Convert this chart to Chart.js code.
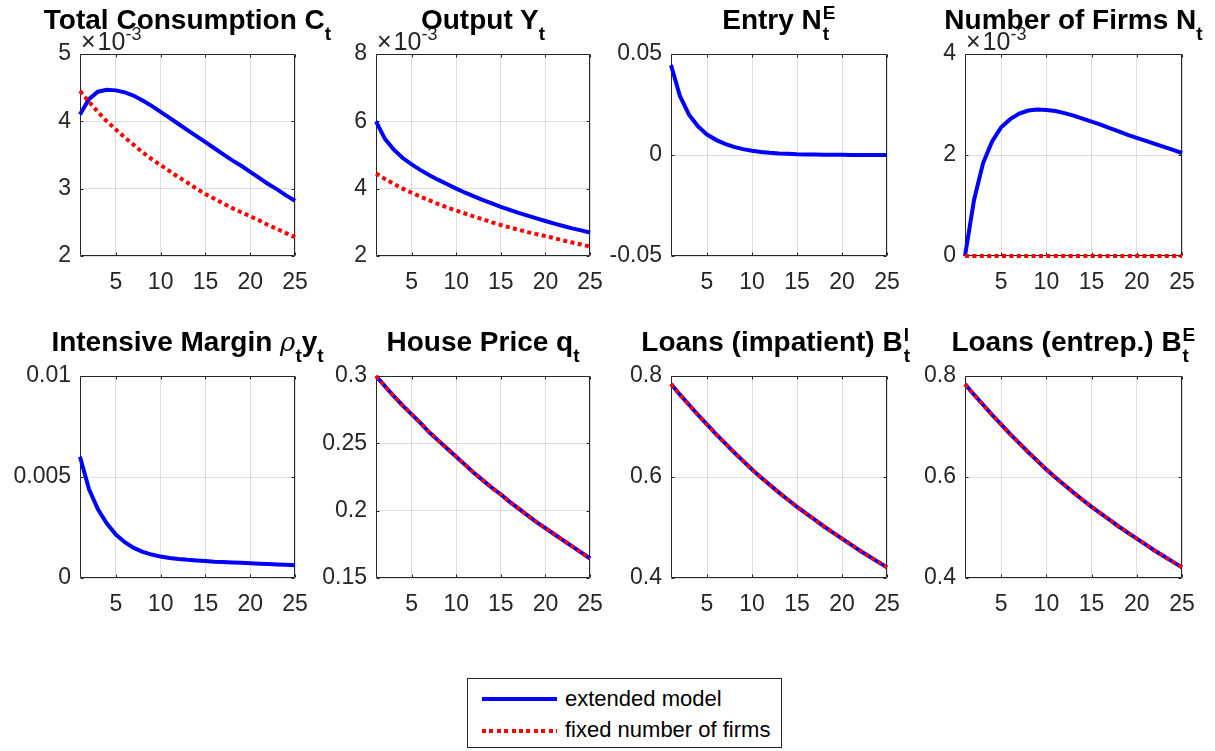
<!DOCTYPE html>
<html>
<head>
<meta charset="utf-8">
<script src="https://cdn.jsdelivr.net/npm/chart.js@4.4.1/dist/chart.umd.min.js"></script>
<style>
  body { margin: 0; width: 1215px; height: 751px; background: #fff; overflow: hidden;
         font-family: "Liberation Sans", Arial, Helvetica, sans-serif; }
  canvas { position: absolute; }
  .title { position: absolute; width: 460px; text-align: center; white-space: nowrap;
           font-size: 28px; font-weight: bold; line-height: 32px; color: #000; }
  .title .sb { font-size: 19px; line-height: 0; vertical-align: -11px; }
  .title .ss { display: inline-block; position: relative; width: 14px; height: 0; }
  .title .ss span { position: absolute; left: 1px; font-size: 19px; line-height: 19px; }
  .title .ss .up { top: -26px; }
  .title .ss .dn { top: -5px; }
  .title .rho { font-family: "DejaVu Serif", serif; font-style: italic; font-weight: normal; font-size: 26px; }
  .expo { position: absolute; font-size: 25px; line-height: 24px; color: #262626; white-space: nowrap; }
  .expo .x { margin-right: 2px; }
  .expo sup { font-size: 18px; line-height: 0; vertical-align: 10px; }
  #legend { position: absolute; left: 467px; top: 678px; width: 313px; height: 68px;
            border: 1px solid #262626; background: #fff; }
  #legend .item { position: absolute; left: 97px; font-size: 22px; line-height: 24px; color: #000; }
  #legend .solid { position: absolute; left: 14px; width: 75px; height: 4px; background: #0000ff; }
  #legend .dots { position: absolute; left: 14px; width: 75px; height: 4px;
                  background: repeating-linear-gradient(to right, #ff0000 0 4px, transparent 4px 7.4px); }
</style>
</head>
<body>
<div id="legend">
  <div class="solid" style="top:18px"></div>
  <div class="item" style="top:8px">extended model</div>
  <div class="dots" style="top:50px"></div>
  <div class="item" style="top:39px">fixed number of firms</div>
</div>
<script>
// impulse responses over 25 periods
const periods = [1, 2, 3, 4, 5, 6, 7, 8, 9, 10, 11, 12, 13, 14, 15, 16, 17, 18, 19, 20, 21, 22, 23, 24, 25];
const periodTicks = [5, 10, 15, 20, 25];

// total consumption (x 10^-3)
const consExtended = [4.10, 4.33, 4.44, 4.47, 4.46, 4.43, 4.38, 4.31, 4.23, 4.14, 4.05, 3.96, 3.87, 3.78, 3.69, 3.60, 3.51, 3.42, 3.34, 3.25, 3.16, 3.07, 2.99, 2.90, 2.82];
const consFixed = [4.45, 4.29, 4.14, 4.00, 3.88, 3.76, 3.65, 3.54, 3.44, 3.35, 3.26, 3.17, 3.09, 3.00, 2.92, 2.85, 2.78, 2.71, 2.65, 2.59, 2.53, 2.46, 2.40, 2.34, 2.28];
const consTicks = [2, 3, 4, 5];

// output (x 10^-3)
const outExtended = [6.00, 5.48, 5.16, 4.91, 4.72, 4.55, 4.40, 4.26, 4.13, 4.00, 3.88, 3.77, 3.66, 3.56, 3.46, 3.37, 3.28, 3.20, 3.12, 3.04, 2.96, 2.89, 2.82, 2.76, 2.70];
const outFixed = [4.45, 4.29, 4.14, 4.00, 3.88, 3.76, 3.65, 3.54, 3.44, 3.35, 3.26, 3.17, 3.09, 3.00, 2.92, 2.85, 2.78, 2.71, 2.65, 2.59, 2.53, 2.46, 2.40, 2.34, 2.28];
const outTicks = [2, 4, 6, 8];

// firm entry
const entryExtended = [0.0445, 0.0291, 0.0200, 0.0142, 0.0101, 0.0075, 0.0055, 0.0040, 0.0029, 0.0021, 0.0015, 0.0011, 0.0008, 0.0006, 0.0004, 0.0003, 0.0002, 0.00015, 0.0001, 0.00007, 0.00005, 0.00003, 0.00002, 0.00001, 0.0];
const entryTicks = [-0.05, 0, 0.05];

// number of firms (x 10^-3)
const firmsExtended = [0.0, 1.11, 1.84, 2.27, 2.55, 2.71, 2.82, 2.88, 2.90, 2.89, 2.87, 2.83, 2.78, 2.72, 2.66, 2.60, 2.53, 2.47, 2.40, 2.34, 2.28, 2.22, 2.16, 2.10, 2.04];
const firmsFixed = [0, 0, 0, 0, 0, 0, 0, 0, 0, 0, 0, 0, 0, 0, 0, 0, 0, 0, 0, 0, 0, 0, 0, 0, 0];
const firmsTicks = [0, 2, 4];

// intensive margin
const marginExtended = [0.0060, 0.0044, 0.0034, 0.0027, 0.00215, 0.00177, 0.00149, 0.00129, 0.00116, 0.00106, 0.00099, 0.00094, 0.00090, 0.00087, 0.00084, 0.00081, 0.00079, 0.00077, 0.00075, 0.00073, 0.00071, 0.00069, 0.00067, 0.00065, 0.00063];
const marginTicks = [0, 0.005, 0.01];

// house price
const houseExtended = [0.300, 0.2925, 0.285, 0.278, 0.2715, 0.265, 0.258, 0.252, 0.246, 0.240, 0.234, 0.228, 0.2225, 0.217, 0.212, 0.2065, 0.2015, 0.1965, 0.1915, 0.187, 0.1825, 0.178, 0.1735, 0.169, 0.1645];
const houseFixed = [0.300, 0.2925, 0.285, 0.278, 0.2715, 0.265, 0.258, 0.252, 0.246, 0.240, 0.234, 0.228, 0.2225, 0.217, 0.212, 0.2065, 0.2015, 0.1965, 0.1915, 0.187, 0.1825, 0.178, 0.1735, 0.169, 0.1645];
const houseTicks = [0.15, 0.2, 0.25, 0.3];

// loans to impatient households
const loansImpExtended = [0.784, 0.763, 0.743, 0.723, 0.704, 0.685, 0.667, 0.649, 0.632, 0.615, 0.599, 0.584, 0.569, 0.555, 0.541, 0.528, 0.515, 0.502, 0.490, 0.478, 0.466, 0.454, 0.443, 0.432, 0.421];
const loansImpFixed = [0.784, 0.763, 0.743, 0.723, 0.704, 0.685, 0.667, 0.649, 0.632, 0.615, 0.599, 0.584, 0.569, 0.555, 0.541, 0.528, 0.515, 0.502, 0.490, 0.478, 0.466, 0.454, 0.443, 0.432, 0.421];
const loansTicks = [0.4, 0.6, 0.8];

// loans to entrepreneurs
const loansEntExtended = [0.784, 0.763, 0.743, 0.723, 0.704, 0.685, 0.667, 0.649, 0.632, 0.615, 0.599, 0.584, 0.569, 0.555, 0.541, 0.528, 0.515, 0.502, 0.490, 0.478, 0.466, 0.454, 0.443, 0.432, 0.421];
const loansEntFixed = [0.784, 0.763, 0.743, 0.723, 0.704, 0.685, 0.667, 0.649, 0.632, 0.615, 0.599, 0.584, 0.569, 0.555, 0.541, 0.528, 0.515, 0.502, 0.490, 0.478, 0.466, 0.454, 0.443, 0.432, 0.421];

const panels = [
    { title: 'Total Consumption C<span class="sb">t</span>', ext: consExtended, fix: consFixed, yTicks: consTicks, expo: true },
    { title: 'Output Y<span class="sb">t</span>', ext: outExtended, fix: outFixed, yTicks: outTicks, expo: true },
    { title: 'Entry N<span class="ss"><span class="up">E</span><span class="dn">t</span></span>', ext: entryExtended, fix: null, yTicks: entryTicks },
    { title: 'Number of Firms N<span class="sb">t</span>', ext: firmsExtended, fix: firmsFixed, yTicks: firmsTicks, expo: true },
    { title: 'Intensive Margin <span class="rho">\u03c1</span><span class="sb">t</span>y<span class="sb">t</span>', ext: marginExtended, fix: null, yTicks: marginTicks },
    { title: 'House Price q<span class="sb">t</span>', ext: houseExtended, fix: houseFixed, yTicks: houseTicks },
    { title: 'Loans (impatient) B<span class="ss"><span class="up">I</span><span class="dn">t</span></span>', ext: loansImpExtended, fix: loansImpFixed, yTicks: loansTicks },
    { title: 'Loans (entrep.) B<span class="ss"><span class="up">E</span><span class="dn">t</span></span>', ext: loansEntExtended, fix: loansEntFixed, yTicks: loansTicks }
];

// plot box positions in the page
const COLS = [[80, 295], [376, 590], [671, 887], [965, 1182]];
const ROWS = [[54, 256], [376, 578]];
const AXIS_W = 90, AXIS_H = 45, PAD_T = 14, PAD_R = 24;
const TEXT = '#262626';
const GRID = 'rgba(38, 38, 38, 0.15)';

Chart.defaults.font.family = '"Liberation Sans", Arial, Helvetica, sans-serif';

// box around the axes with short inward ticks on every side
const framePlugin = {
    id: 'frame',
    beforeDatasetsDraw(chart) {
        const { ctx, chartArea: a, scales: { x, y } } = chart;
        const L = Math.round(a.left) + 0.5, R = Math.round(a.right) - 0.5;
        const T = Math.round(a.top) + 0.5, B = Math.round(a.bottom) - 0.5;
        ctx.save();
        ctx.strokeStyle = TEXT;
        ctx.lineWidth = 1;
        ctx.beginPath();
        ctx.rect(L, T, R - L, B - T);
        x.ticks.forEach(t => {
            const px = Math.round(x.getPixelForValue(t.value)) + 0.5;
            ctx.moveTo(px, B); ctx.lineTo(px, B - 3);
            ctx.moveTo(px, T); ctx.lineTo(px, T + 3);
        });
        y.ticks.forEach(t => {
            const py = Math.round(y.getPixelForValue(t.value)) + 0.5;
            ctx.moveTo(L, py); ctx.lineTo(L + 3, py);
            ctx.moveTo(R, py); ctx.lineTo(R - 3, py);
        });
        ctx.stroke();
        ctx.restore();
    }
};

panels.forEach((p, i) => {
    const [cL, cR] = COLS[i % 4];
    const [rT, rB] = ROWS[Math.floor(i / 4)];

    const canvas = document.createElement('canvas');
    canvas.width = (cR - cL) + AXIS_W + PAD_R;
    canvas.height = (rB - rT) + PAD_T + AXIS_H;
    canvas.style.left = (cL - AXIS_W) + 'px';
    canvas.style.top = (rT - PAD_T) + 'px';
    document.body.appendChild(canvas);

    const datasets = [{
        label: 'extended model',
        data: p.ext,
        borderColor: '#0000ff',
        borderWidth: 4,
        pointRadius: 0,
        tension: 0,
        clip: 6,
        order: 1
    }];
    if (p.fix) {
        datasets.push({
            label: 'fixed number of firms',
            data: p.fix,
            borderColor: '#ff0000',
            borderWidth: 4,
            borderDash: [4, 3.4],
            borderCapStyle: 'butt',
            pointRadius: 0,
            tension: 0,
            clip: 6,
            order: 0
        });
    }

    new Chart(canvas.getContext('2d'), {
        type: 'line',
        data: { labels: periods, datasets: datasets },
        plugins: [framePlugin],
        options: {
            responsive: false,
            animation: false,
            events: [],
            layout: { padding: { left: 0, top: PAD_T, right: PAD_R, bottom: 0 } },
            plugins: { legend: { display: false }, tooltip: { enabled: false } },
            scales: {
                x: {
                    type: 'linear',
                    min: periods[0],
                    max: periods[periods.length - 1],
                    afterBuildTicks: s => { s.ticks = periodTicks.map(v => ({ value: v })); },
                    afterFit: s => { s.height = AXIS_H; s.paddingLeft = 0; s.paddingRight = 0; },
                    grid: { color: GRID, drawTicks: false },
                    border: { display: false },
                    ticks: { color: TEXT, font: { size: 23 }, padding: 13, maxRotation: 0, autoSkip: false,
                             callback: v => String(v) }
                },
                y: {
                    min: p.yTicks[0],
                    max: p.yTicks[p.yTicks.length - 1],
                    afterBuildTicks: s => { s.ticks = p.yTicks.map(v => ({ value: v })); },
                    afterFit: s => { s.width = AXIS_W; s.paddingTop = 0; s.paddingBottom = 0; },
                    grid: { color: GRID, drawTicks: false },
                    border: { display: false },
                    ticks: { color: TEXT, font: { size: 23 }, padding: 9, autoSkip: false,
                             callback: v => String(v) }
                }
            }
        }
    });

    if (p.expo) {
        const e = document.createElement('div');
        e.className = 'expo';
        e.style.left = (cL + 1) + 'px';
        e.style.top = (rT - 25) + 'px';
        e.innerHTML = '<span class="x">\u00d7</span>10<sup>-3</sup>';
        document.body.appendChild(e);
    }

    const t = document.createElement('div');
    t.className = 'title';
    t.style.left = ((cL + cR) / 2 - 230) + 'px';
    t.style.top = (rT - 50) + 'px';
    t.innerHTML = p.title;
    document.body.appendChild(t);
});
</script>
</body>
</html>
